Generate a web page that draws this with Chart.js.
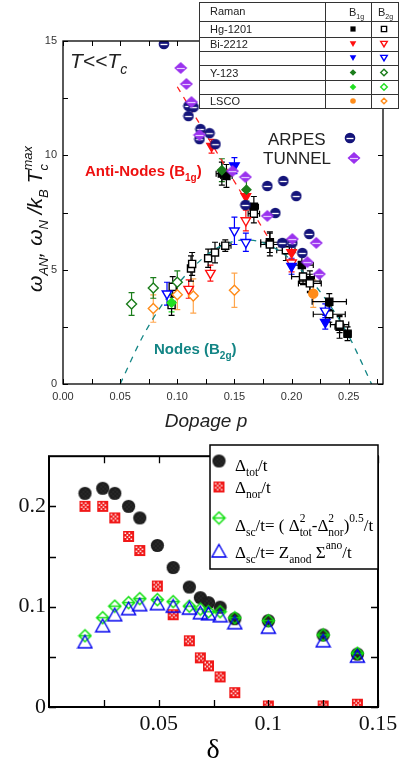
<!DOCTYPE html>
<html>
<head>
<meta charset="utf-8">
<script src="https://cdn.jsdelivr.net/npm/chart.js@4.4.0/dist/chart.umd.min.js"></script>
<style>
  html, body { margin: 0; padding: 0; background: #fff; }
  #wrap { position: relative; width: 403px; height: 764px; }
  canvas { position: absolute; left: 0; }
  #top { top: 0; }
  #bot { top: 440px; }
</style>
</head>
<body>
<div id="wrap">
  <canvas id="top" width="403" height="440"></canvas>
  <canvas id="bot" width="403" height="324"></canvas>
</div>
<script>
// ---------- top panel : gap energies vs doping ----------
const xTicksTop = [0, 0.05, 0.10, 0.15, 0.20, 0.25];
const xMinorTop = [0.025, 0.075, 0.125, 0.175, 0.225, 0.275];
const yTicksTop = [0, 5, 10, 15];
const yMinorTop = [2.5, 7.5, 12.5];

// Hg-1201
const hgB1gX = [0.139, 0.143, 0.167, 0.181, 0.209, 0.216, 0.233, 0.242, 0.249];
const hgB1gY = [9.2, 9.1, 7.75, 6.2, 5.2, 4.5, 3.6, 2.5, 2.2];
const hgB1gEy = [0.5, 0.5, 0.45, 0.45, 0.4, 0.45, 0.35, 0.5, 0.3];
const hgB1gEx = [0.005, 0.005, 0.004, 0.008, 0.01, 0.009, 0.015, 0.004, 0.003];
const hgB2gX = [0.095, 0.096, 0.112, 0.113, 0.127, 0.133, 0.142, 0.167, 0.181, 0.195, 0.210, 0.216, 0.233, 0.242];
const hgB2gY = [3.45, 4.25, 5.05, 5.25, 5.5, 5.75, 6.05, 7.45, 6.1, 5.85, 4.7, 4.4, 3.05, 2.6];
const hgB2gEy = [0.45, 0.45, 0.55, 0.5, 0.4, 0.45, 0.25, 0.4, 0.5, 0.45, 0.35, 0.4, 0.35, 0.35];
const hgB2gEx = [0, 0, 0, 0, 0, 0, 0.005, 0.005, 0.008, 0.008, 0.01, 0.01, 0.014, 0.008];
// Bi-2212 (red and blue)
const biRedB1gX = [0.130, 0.160, 0.200];
const biRedB1gY = [10.4, 8.2, 5.75];
const biRedB1gEy = [0.3, 0.35, 0.3];
const biRedB2gX = [0.110, 0.129, 0.160, 0.200];
const biRedB2gY = [4.15, 4.85, 7.15, 5.3];
const biRedB2gEy = [0.4, 0.35, 0.45, 0.4];
const biBlueB1gX = [0.150, 0.200, 0.2295];
const biBlueB1gY = [9.55, 5.15, 2.7];
const biBlueB1gEy = [0.35, 0.35, 0.3];
const biBlueB2gX = [0.091, 0.150, 0.160, 0.2295];
const biBlueB2gY = [3.95, 6.7, 6.2, 3.2];
const biBlueB2gEy = [0.5, 0.6, 0.4, 0.3];
// Y-123 (dark and light green)
const yDkB1gX = [0.139, 0.1605];
const yDkB1gY = [9.35, 8.5];
const yDkB1gEy = [0.5, 0.5];
const yDkB2gX = [0.060, 0.079, 0.100];
const yDkB2gY = [3.5, 4.2, 4.45];
const yDkB2gEy = [0.5, 0.45, 0.5];
const yLtB1gX = [0.095];
const yLtB1gY = [3.55];
const yLtB1gEy = [0.4];
// LSCO
const lscoB1gX = [0.219];
const lscoB1gY = [3.95];
const lscoB1gEy = [0.6];
const lscoB2gX = [0.079, 0.100, 0.114, 0.150];
const lscoB2gY = [3.3, 3.9, 3.85, 4.1];
const lscoB2gEy = [0.6, 0.65, 0.75, 0.75];
// ARPES / TUNNEL
const arpesX = [0.0883, 0.1098, 0.1142, 0.1098, 0.1203, 0.1194, 0.1282, 0.1334, 0.1596, 0.1788, 0.1928, 0.2041, 0.1858, 0.2155, 0.1919, 0.2006, 0.2094];
const arpesY = [14.87, 12.16, 12.11, 11.72, 11.15, 10.71, 10.97, 10.49, 7.83, 8.66, 8.88, 8.22, 7.48, 6.56, 6.17, 6.17, 5.73];
const tunnelX = [0.103, 0.108, 0.1124, 0.1194, 0.1483, 0.1596, 0.1788, 0.2007, 0.2216, 0.2138, 0.2243];
const tunnelY = [13.82, 13.12, 12.33, 10.89, 9.31, 9.05, 7.35, 6.34, 6.17, 5.33, 4.81];
// guide lines
const antiNodeX = [0.100, 0.182];
const antiNodeY = [13.0, 6.2];
const nodeX = [0.05, 0.07, 0.09, 0.11, 0.13, 0.15, 0.16, 0.17, 0.19, 0.21, 0.23, 0.25, 0.27];
const nodeY = [0, 2.1, 3.7, 4.9, 5.8, 6.25, 6.3, 6.25, 5.8, 4.9, 3.7, 2.1, 0];
const ramanRows = ['Hg-1201', 'Bi-2212', '', 'Y-123', '', 'LSCO'];

// ---------- bottom panel : gaps vs delta ----------
const xTicksBot = [0.05, 0.1, 0.15];
const xMinorBot = [0.025, 0.075, 0.125];
const yTicksBot = [0, 0.1, 0.2];
const yMinorBot = [0.05, 0.15];
const deltaX = [0.0164, 0.0245, 0.030, 0.0363, 0.0414, 0.0494, 0.0566, 0.064, 0.069, 0.0727, 0.078, 0.0847, 0.100, 0.125, 0.1406];
const totY = [0.213, 0.218, 0.213, 0.200, 0.1885, 0.161, 0.139, 0.1196, 0.109, 0.104, 0.0995, 0.088, 0.086, 0.0718, 0.0527];
const norY = [0.200, 0.200, 0.1885, 0.170, 0.156, 0.1206, 0.092, 0.066, 0.049, 0.041, 0.030, 0.0143, 0.001, 0.001, 0.0028];
const scY = [0.071, 0.089, 0.1005, 0.104, 0.108, 0.107, 0.105, 0.1005, 0.0976, 0.095, 0.095, 0.089, 0.086, 0.0718, 0.0536];
const anoY = [0.065, 0.081, 0.092, 0.098, 0.102, 0.103, 0.1005, 0.0985, 0.094, 0.093, 0.091, 0.084, 0.0795, 0.066, 0.0507];

const NAVY = '#14147a', PURPLE = '#9a32ee', RED = '#ff1010', BLUE = '#0000ff';
const DKGREEN = '#1b7d1b', LTGREEN = '#22e022', ORANGE = '#ff8c1a', TEAL = '#138585';
const SANS = '"Liberation Sans", Arial, sans-serif';
const SERIF = '"Liberation Serif", "Times New Roman", serif';

function pts(xs, ys) { return xs.map((x, i) => ({ x: x, y: ys[i] })); }

function marker(w, h, draw) {
  const c = document.createElement('canvas');
  c.width = w; c.height = h;
  draw(c.getContext('2d'), w / 2, h / 2);
  return c;
}
const arpesImg = marker(12, 12, (g, cx, cy) => {
  g.fillStyle = NAVY; g.beginPath(); g.arc(cx, cy, 5.3, 0, Math.PI * 2); g.fill();
  g.strokeStyle = '#fff'; g.lineWidth = 1.3; g.beginPath(); g.moveTo(cx - 3.5, cy + 0.5); g.lineTo(cx + 3.5, cy + 0.5); g.stroke();
});
const tunnelImg = marker(14, 14, (g, cx, cy) => {
  g.fillStyle = PURPLE; g.beginPath(); g.moveTo(cx, cy - 6); g.lineTo(cx + 6.5, cy); g.lineTo(cx, cy + 6); g.lineTo(cx - 6.5, cy); g.closePath(); g.fill();
  g.strokeStyle = '#e6ccff'; g.lineWidth = 1.2; g.beginPath(); g.moveTo(cx - 4, cy + 0.5); g.lineTo(cx + 4, cy + 0.5); g.stroke();
});
const totImg = marker(15, 15, (g, cx, cy) => {
  g.fillStyle = '#1e1e1e'; g.beginPath(); g.arc(cx, cy, 6.6, 0, Math.PI * 2); g.fill();
  g.fillStyle = '#444';
  for (let i = -6; i <= 6; i += 2) for (let j = -6; j <= 6; j += 2) if ((i + j) % 4 === 0 && i * i + j * j < 30) g.fillRect(cx + i, cy + j, 1, 1);
});
const norImg = marker(13, 13, (g, cx, cy) => {
  g.fillStyle = '#f01818'; g.fillRect(cx - 5.5, cy - 5.5, 11, 11);
  g.fillStyle = '#fff';
  for (let i = 0; i < 4; i++) for (let j = 0; j < 4; j++) if ((i + j) % 2 === 0) g.fillRect(cx - 4 + i * 2, cy - 4 + j * 2, 1.5, 1.5);
});
const scImg = marker(15, 15, (g, cx, cy) => {
  g.strokeStyle = '#10e010'; g.lineWidth = 1.5;
  g.beginPath(); g.moveTo(cx, cy - 6); g.lineTo(cx + 6, cy); g.lineTo(cx, cy + 6); g.lineTo(cx - 6, cy); g.closePath(); g.stroke();
  g.beginPath(); g.moveTo(cx - 6, cy); g.lineTo(cx + 6, cy); g.stroke();
});
const anoImg = marker(17, 16, (g, cx, cy) => {
  g.strokeStyle = '#0000ee'; g.lineWidth = 1.4;
  g.beginPath(); g.moveTo(cx, cy - 6.5); g.lineTo(cx + 7, cy + 6); g.lineTo(cx - 7, cy + 6); g.closePath(); g.stroke();
});

// draws text with sub/superscripts; parts are strings or {sub, sup}
function rich(ctx, x, y, parts, o) {
  const f = s => `${o.style || 'normal'} ${o.weight || 'normal'} ${s}px ${o.family}`;
  let cx = x;
  ctx.fillStyle = o.color || '#000';
  ctx.textAlign = 'left'; ctx.textBaseline = 'alphabetic';
  parts.forEach(p => {
    if (typeof p === 'string') {
      ctx.font = f(o.size);
      if (!o.dry) ctx.fillText(p, cx, y);
      cx += ctx.measureText(p).width;
    } else {
      ctx.font = f(o.small);
      let w = 0;
      if (p.sup) { if (!o.dry) ctx.fillText(p.sup, cx, y - o.size * (o.supK || 0.42)); w = Math.max(w, ctx.measureText(p.sup).width); }
      if (p.sub) { if (!o.dry) ctx.fillText(p.sub, cx, y + o.size * (o.subK || 0.25)); w = Math.max(w, ctx.measureText(p.sub).width); }
      cx += w + (p.gap || 0);
    }
  });
  return cx - x;
}

// small shape drawer for the Raman table
function shape(ctx, kind, x, y, r, color, open) {
  ctx.save();
  ctx.beginPath();
  if (kind === 'square') ctx.rect(x - r, y - r, 2 * r, 2 * r);
  else if (kind === 'tri') { ctx.moveTo(x - r, y - r * 0.8); ctx.lineTo(x + r, y - r * 0.8); ctx.lineTo(x, y + r * 0.9); ctx.closePath(); }
  else if (kind === 'diamond') { ctx.moveTo(x, y - r); ctx.lineTo(x + r, y); ctx.lineTo(x, y + r); ctx.lineTo(x - r, y); ctx.closePath(); }
  else ctx.arc(x, y, r, 0, Math.PI * 2);
  if (open) { ctx.fillStyle = '#fff'; ctx.fill(); ctx.strokeStyle = color; ctx.lineWidth = 1.4; ctx.stroke(); }
  else { ctx.fillStyle = color; ctx.fill(); }
  ctx.restore();
}

// inward tick marks and frame
const framePlugin = {
  id: 'frame',
  afterDatasetsDraw(chart, args, o) {
    const ctx = chart.ctx, a = chart.chartArea, sx = chart.scales.x, sy = chart.scales.y;
    ctx.save();
    ctx.strokeStyle = '#000'; ctx.lineWidth = o.width;
    ctx.strokeRect(a.left, a.top, a.right - a.left, a.bottom - a.top);
    ctx.lineWidth = o.tickWidth;
    ctx.beginPath();
    o.xMajor.concat(o.xMinor).forEach(v => {
      const px = Math.round(sx.getPixelForValue(v)) + 0.5;
      ctx.moveTo(px, a.bottom); ctx.lineTo(px, a.bottom - o.len);
      ctx.moveTo(px, a.top); ctx.lineTo(px, a.top + o.len);
    });
    o.yMajor.concat(o.yMinor).forEach(v => {
      const py = Math.round(sy.getPixelForValue(v)) + 0.5;
      ctx.moveTo(a.left, py); ctx.lineTo(a.left + o.len, py);
      ctx.moveTo(a.right, py); ctx.lineTo(a.right - o.len, py);
    });
    ctx.stroke();
    ctx.restore();
  }
};

// error bars from dataset.errY / dataset.errX
const errorPlugin = {
  id: 'errorBars',
  beforeDatasetsDraw(chart) {
    const ctx = chart.ctx, sx = chart.scales.x, sy = chart.scales.y;
    ctx.save();
    ctx.lineWidth = 1.2;
    chart.data.datasets.forEach(ds => {
      if (!ds.errY) return;
      ctx.strokeStyle = ds.errColor;
      ds.data.forEach((p, i) => {
        const px = sx.getPixelForValue(p.x), py = sy.getPixelForValue(p.y);
        const ey = ds.errY[i] || 0, ex = ds.errX ? (ds.errX[i] || 0) : 0;
        ctx.beginPath();
        if (ey) {
          const y1 = sy.getPixelForValue(p.y + ey), y2 = sy.getPixelForValue(p.y - ey);
          ctx.moveTo(px, y1); ctx.lineTo(px, y2);
          ctx.moveTo(px - 3, y1); ctx.lineTo(px + 3, y1);
          ctx.moveTo(px - 3, y2); ctx.lineTo(px + 3, y2);
        }
        if (ex) {
          const x1 = sx.getPixelForValue(p.x - ex), x2 = sx.getPixelForValue(p.x + ex);
          ctx.moveTo(x1, py); ctx.lineTo(x2, py);
          ctx.moveTo(x1, py - 3); ctx.lineTo(x1, py + 3);
          ctx.moveTo(x2, py - 3); ctx.lineTo(x2, py + 3);
        }
        ctx.stroke();
      });
    });
    ctx.restore();
  }
};

function markSet(label, xs, ys, ey, ex, style) {
  return Object.assign({ label: label, data: pts(xs, ys), errY: ey, errX: ex, showLine: false, order: 1,
    pointRadius: 5, pointBorderWidth: 1.4 }, style);
}
function filled(ps, c, r, rot) { return { pointStyle: ps, pointBackgroundColor: c, pointBorderColor: c, pointRadius: r, pointRotation: rot || 0, errColor: c }; }
function hollow(ps, c, r, rot) { return { pointStyle: ps, pointBackgroundColor: '#fff', pointBorderColor: c, pointRadius: r, pointRotation: rot || 0, errColor: c }; }

const topNotes = {
  id: 'topNotes',
  afterDraw(chart) {
    const ctx = chart.ctx;
    ctx.save();
    // y axis title
    const yParts = ['\u03c9', { sub: 'AN' }, ', \u03c9', { sub: 'N' }, ' /k', { sub: 'B' }, ' T', { sup: 'max', sub: 'c' }];
    const yo = { family: SANS, style: 'italic', size: 21, small: 13, color: '#111', supK: 0.5, subK: 0.28 };
    const w = rich(ctx, 0, 0, yParts, Object.assign({ dry: true }, yo));
    ctx.save();
    ctx.translate(42, 219 + w / 2);
    ctx.rotate(-Math.PI / 2);
    rich(ctx, 0, 0, yParts, yo);
    ctx.restore();
    // x axis title
    ctx.font = `italic 19px ${SANS}`; ctx.fillStyle = '#222'; ctx.textAlign = 'center';
    ctx.fillText('Dopage p', 206, 427);
    // annotations
    rich(ctx, 70, 68, ['T<<T', { sub: 'c' }], { family: SANS, style: 'italic', size: 21, small: 14, color: '#222', subK: 0.3 });
    ctx.font = `17px ${SANS}`; ctx.fillStyle = '#222'; ctx.textAlign = 'left';
    ctx.fillText('ARPES', 268, 145);
    ctx.fillText('TUNNEL', 263, 164);
    ctx.drawImage(arpesImg, 350 - 6, 138 - 6);
    ctx.drawImage(tunnelImg, 354 - 7, 158 - 7);
    rich(ctx, 85, 176, ['Anti-Nodes (B', { sub: '1g' }, ')'], { family: SANS, weight: 'bold', size: 15, small: 10, color: '#ee1111', subK: 0.3 });
    rich(ctx, 154, 354, ['Nodes (B', { sub: '2g' }, ')'], { family: SANS, weight: 'bold', size: 15, small: 10, color: TEAL, subK: 0.3 });
    // Raman table
    const L = 199, R = 398, c1 = 325, c2 = 371, T = 2, B = 108;
    const rowLines = [21, 37, 51, 65, 80, 94];
    ctx.fillStyle = '#fff'; ctx.fillRect(L, T, R - L, B - T);
    ctx.strokeStyle = '#333'; ctx.lineWidth = 1;
    ctx.strokeRect(L + 0.5, T + 0.5, R - L, B - T);
    ctx.beginPath();
    rowLines.forEach(y => { ctx.moveTo(L, y + 0.5); ctx.lineTo(R, y + 0.5); });
    ctx.moveTo(c1 + 0.5, T); ctx.lineTo(c1 + 0.5, B);
    ctx.moveTo(c2 + 0.5, T); ctx.lineTo(c2 + 0.5, B);
    ctx.stroke();
    ctx.fillStyle = '#222'; ctx.font = `11px ${SANS}`; ctx.textAlign = 'left';
    ctx.fillText('Raman', 210, 15);
    rich(ctx, 349, 16, ['B', { sub: '1g' }], { family: SANS, size: 11, small: 7, color: '#222' });
    rich(ctx, 378, 16, ['B', { sub: '2g' }], { family: SANS, size: 11, small: 7, color: '#222' });
    const rowY = [29, 44, 58, 72.5, 87, 101];
    const rowKinds = [['square', '#000'], ['tri', RED], ['tri', BLUE], ['diamond', DKGREEN], ['diamond', LTGREEN], ['circle', ORANGE]];
    ramanRows.forEach((name, i) => {
      ctx.fillStyle = '#222'; ctx.font = `11px ${SANS}`;
      if (name) ctx.fillText(name, 210, rowY[i] + 4);
      const k = rowKinds[i];
      const r = k[0] === 'square' ? 2.6 : (k[0] === 'circle' ? 2.8 : 3.3);
      shape(ctx, k[0], 353, rowY[i], r, k[1], false);
      shape(ctx, k[0] === 'circle' ? 'diamond' : k[0], 384, rowY[i], r, k[1], true);
    });
    ctx.restore();
  }
};

new Chart(document.getElementById('top'), {
  type: 'scatter',
  data: {
    datasets: [
      { label: 'Nodes', data: pts(nodeX, nodeY), showLine: true, borderColor: TEAL, borderWidth: 1.3, borderDash: [6, 6], pointRadius: 0, tension: 0.4, cubicInterpolationMode: 'monotone', order: 10 },
      { label: 'Anti-Nodes', data: pts(antiNodeX, antiNodeY), showLine: true, borderColor: '#ff2020', borderWidth: 1.3, borderDash: [6, 6], pointRadius: 0, order: 10 },
      markSet('LSCO B2g', lscoB2gX, lscoB2gY, lscoB2gEy, null, Object.assign(hollow('rectRot', ORANGE, 5), { errColor: '#ffa64d' })),
      markSet('LSCO B1g', lscoB1gX, lscoB1gY, lscoB1gEy, null, Object.assign(filled('circle', ORANGE, 4.5), { errColor: '#ffa64d' })),
      markSet('Y-123 B2g', yDkB2gX, yDkB2gY, yDkB2gEy, null, hollow('rectRot', DKGREEN, 5)),
      markSet('Y-123 B1g light', yLtB1gX, yLtB1gY, yLtB1gEy, null, filled('rectRot', LTGREEN, 4.5)),
      markSet('Y-123 B1g', yDkB1gX, yDkB1gY, yDkB1gEy, null, filled('rectRot', DKGREEN, 4.5)),
      markSet('Bi-2212 B2g blue', biBlueB2gX, biBlueB2gY, biBlueB2gEy, null, hollow('triangle', BLUE, 5.5, 180)),
      markSet('Bi-2212 B1g blue', biBlueB1gX, biBlueB1gY, biBlueB1gEy, null, filled('triangle', BLUE, 5.5, 180)),
      markSet('Bi-2212 B2g', biRedB2gX, biRedB2gY, biRedB2gEy, null, hollow('triangle', RED, 5.5, 180)),
      markSet('Bi-2212 B1g', biRedB1gX, biRedB1gY, biRedB1gEy, null, filled('triangle', RED, 5.5, 180)),
      markSet('Hg-1201 B2g', hgB2gX, hgB2gY, hgB2gEy, hgB2gEx, hollow('rect', '#000', 5)),
      markSet('Hg-1201 B1g', hgB1gX, hgB1gY, hgB1gEy, hgB1gEx, filled('rect', '#000', 5)),
      { label: 'TUNNEL', data: pts(tunnelX, tunnelY), showLine: false, pointStyle: tunnelImg, pointRadius: 6, order: 0 },
      { label: 'ARPES', data: pts(arpesX, arpesY), showLine: false, pointStyle: arpesImg, pointRadius: 6, order: 0 }
    ]
  },
  options: {
    responsive: false, animation: false, devicePixelRatio: 1, events: [],
    layout: { padding: { left: 0, top: 41, right: 20, bottom: 0 } },
    plugins: {
      legend: { display: false }, tooltip: { enabled: false },
      frame: { xMajor: xTicksTop, xMinor: xMinorTop, yMajor: yTicksTop, yMinor: yMinorTop, len: 5, width: 1.3, tickWidth: 1 }
    },
    scales: {
      x: {
        type: 'linear', min: 0, max: 0.28,
        grid: { display: false, drawTicks: false }, border: { display: false },
        afterBuildTicks: s => { s.ticks = xTicksTop.map(v => ({ value: v })); },
        afterFit: s => { s.height = 56; },
        ticks: { padding: 6, color: '#333', font: { family: SANS, size: 11 }, maxRotation: 0, autoSkip: false, callback: v => v.toFixed(2) }
      },
      y: {
        type: 'linear', min: 0, max: 15,
        grid: { display: false, drawTicks: false }, border: { display: false },
        afterBuildTicks: s => { s.ticks = yTicksTop.map(v => ({ value: v })); },
        afterFit: s => { s.width = 63; },
        ticks: { padding: 6, color: '#333', font: { family: SANS, size: 11 }, callback: v => String(v) }
      }
    }
  },
  plugins: [errorPlugin, framePlugin, topNotes]
});

const botNotes = {
  id: 'botNotes',
  afterDraw(chart) {
    const ctx = chart.ctx;
    ctx.save();
    ctx.font = `28px ${SERIF}`; ctx.fillStyle = '#000'; ctx.textAlign = 'center';
    ctx.fillText('\u03b4', 213, 318);
    // legend box
    const L = 210, R = 378, T = 5, B = 129;
    ctx.fillStyle = '#fff'; ctx.fillRect(L, T, R - L, B - T);
    ctx.strokeStyle = '#000'; ctx.lineWidth = 1.5;
    ctx.strokeRect(L, T, R - L, B - T);
    const o = { family: SERIF, size: 17, small: 11.5, color: '#000', subK: 0.32, supK: 0.52 };
    ctx.drawImage(totImg, 219 - 7.5, 21 - 7.5);
    rich(ctx, 235, 31, ['\u0394', { sub: 'tot' }, '/t'], o);
    ctx.drawImage(norImg, 219 - 6.5, 47 - 6.5);
    rich(ctx, 235, 53, ['\u0394', { sub: 'nor' }, '/t'], o);
    ctx.drawImage(scImg, 219 - 7.5, 78 - 7.5);
    rich(ctx, 235, 91, ['\u0394', { sub: 'sc' }, '/t= ( \u0394', { sup: '2', sub: 'tot' }, '-\u0394', { sup: '2', sub: 'nor' }, ')', { sup: '0.5' }, '/t'], o);
    ctx.drawImage(anoImg, 219 - 8.5, 111 - 8);
    rich(ctx, 235, 118, ['\u0394', { sub: 'sc' }, '/t= Z', { sub: 'anod' }, ' \u03a3', { sup: 'ano' }, '/t'], o);
    ctx.restore();
  }
};

function botSet(label, ys, img, r) {
  return { label: label, data: pts(deltaX, ys), showLine: false, pointStyle: img, pointRadius: r };
}

new Chart(document.getElementById('bot'), {
  type: 'scatter',
  data: {
    datasets: [
      botSet('\u0394sc/t = Zanod \u03a3ano/t', anoY, anoImg, 7),
      botSet('\u0394sc/t', scY, scImg, 7),
      botSet('\u0394nor/t', norY, norImg, 6),
      botSet('\u0394tot/t', totY, totImg, 7)
    ]
  },
  options: {
    responsive: false, animation: false, devicePixelRatio: 1, events: [],
    layout: { padding: { left: 0, top: 5, right: 25, bottom: 0 } },
    plugins: {
      legend: { display: false }, tooltip: { enabled: false },
      frame: { xMajor: xTicksBot, xMinor: xMinorBot, yMajor: yTicksBot, yMinor: yMinorBot, len: 7, width: 2, tickWidth: 1.3 }
    },
    scales: {
      x: {
        type: 'linear', min: 0, max: 0.15,
        grid: { display: false, drawTicks: false }, border: { display: false },
        afterBuildTicks: s => { s.ticks = xTicksBot.map(v => ({ value: v })); },
        afterFit: s => { s.height = 57; },
        ticks: { padding: 4, color: '#111', font: { family: SERIF, size: 22 }, maxRotation: 0, autoSkip: false, callback: v => String(v) }
      },
      y: {
        type: 'linear', min: 0, max: 0.25,
        grid: { display: false, drawTicks: false }, border: { display: false },
        afterBuildTicks: s => { s.ticks = yTicksBot.map(v => ({ value: v })); },
        afterFit: s => { s.width = 49; },
        ticks: { padding: 3, color: '#111', font: { family: SERIF, size: 22 }, callback: v => String(v) }
      }
    }
  },
  plugins: [framePlugin, botNotes]
});
</script>
</body>
</html>
